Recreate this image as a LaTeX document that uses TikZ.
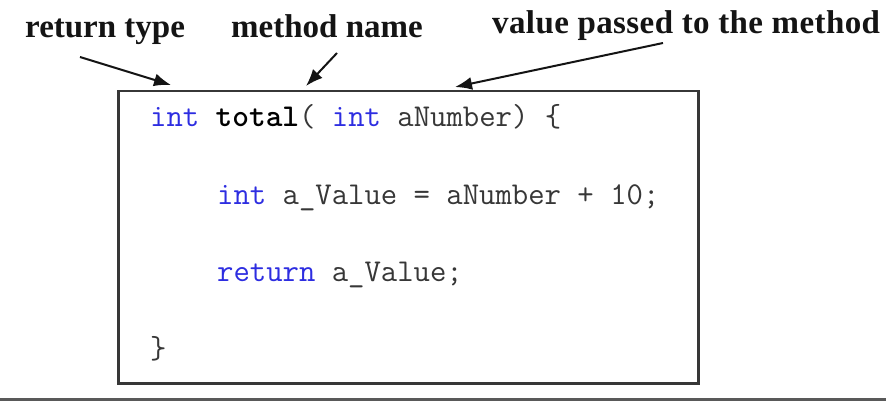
\documentclass[tikz,border=0pt]{standalone}
\usepackage{fontspec}
\setmainfont{Liberation Serif}
\usetikzlibrary{arrows.meta}
\definecolor{keyblue}{RGB}{45,45,225}
\definecolor{codegray}{RGB}{55,55,55}
\definecolor{framegray}{RGB}{55,55,55}
\definecolor{labelink}{RGB}{20,20,20}
\tikzset{
  lbl/.style={anchor=base west, inner sep=0pt, text=labelink,
    font=\fontsize{33}{38}\selectfont\bfseries},
  codeline/.style={anchor=base west, inner sep=0pt, text=codegray,
    font=\fontsize{31.8}{36}\ttfamily},
  pointer/.style={draw=labelink, line width=2pt,
    -{Latex[length=17pt,width=13pt]}},
  codebox/.style={draw=framegray, line width=2.5pt, fill=white,
    minimum width=580pt, minimum height=292pt, anchor=north west, inner sep=0pt}
}
\newcommand{\kw}[1]{\textcolor{keyblue}{#1}}
\begin{document}
\begin{tikzpicture}[x=1pt,y=-1pt]
\useasboundingbox (0,0) rectangle (886,401);
\fill[white] (0,0) rectangle (886,401);
% labels
\node[lbl] (rt) at (25,38) {return type};
\node[lbl] (mn) at (231,38) {method name};
\node[lbl] (vp) at (492,34) {\addfontfeatures{LetterSpace=1.2}value passed to the method};
% code box
\node[codebox] (box) at (117,90) {};
\node[codeline] (l1) at (150,127) {\kw{int} \textbf{\textcolor{black}{total}}( \kw{int} aNumber) \{};
\node[codeline] (l2) at (217,204) {\kw{int} a\_Value = aNumber + 10;};
\node[codeline] (l3) at (217,281) {\kw{return} a\_Value;};
\node[codeline] (l4) at (150,358) {\}};
% arrow ends
\coordinate (rts) at (80,57);
\coordinate (rtt) at (171,85);
\coordinate (mns) at (337,53);
\coordinate (mnt) at (306,86);
\coordinate (vps) at (663,43);
\coordinate (vpt) at (455,87);
\draw[pointer] (rts) -- (rtt);
\draw[pointer] (mns) -- (mnt);
\draw[pointer] (vps) -- (vpt);
% bottom rule
\coordinate (bl) at (0,399);
\coordinate (br) at (886,399);
\draw[draw=gray!70!black, line width=3pt] (bl) -- (br);
\end{tikzpicture}
\end{document}
